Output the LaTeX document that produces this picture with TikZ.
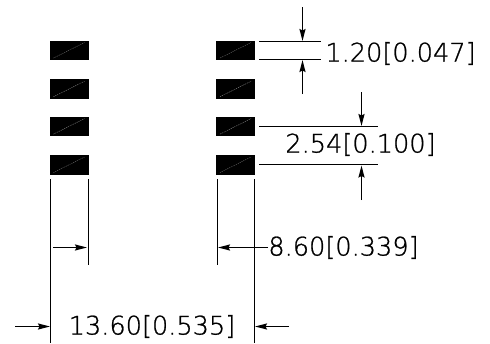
\documentclass[tikz,border=0pt]{standalone}
\usepackage{fontspec}
\newfontfamily\dimfont[FakeBold=0.9]{DejaVu Sans ExtraLight}
\usetikzlibrary{arrows.meta}
\tikzset{
  x=1pt,y=-1pt,
  padbox/.style={fill=black,draw=none,minimum width=39pt,minimum height=19.5pt,inner sep=0pt,outer sep=0pt},
  padline/.style={draw=white!60!black,line width=0.3pt,dash pattern=on 1.2pt off 0.8pt},
  dimline/.style={draw=black,line width=1.6pt},
  dimarrow/.style={draw=black,line width=1.6pt,-{Stealth[length=12pt,width=6pt,inset=1.5pt]}},
  dimtext/.style={font=\dimfont\fontsize{25.6}{25.6}\selectfont,inner sep=0pt,anchor=center,text=black}
}
\begin{document}
\begin{tikzpicture}
\useasboundingbox (0,0) rectangle (490,343);
\foreach \n/\y in {1/50.3,2/89,3/126.4,4/164.8}{
  \node[padbox] (L\n) at (69,\y) {};
  \node[padbox] (R\n) at (235.5,\y) {};
  \draw[padline] ([shift={(4,-2)}]L\n.south west) -- ([shift={(-4,2)}]L\n.north east);
  \draw[padline] ([shift={(4,-2)}]R\n.south west) -- ([shift={(-4,2)}]R\n.north east);
}
% text
\node[dimtext] (t1) at (400.5,53.5) {1.20[0.047]};
\node[dimtext] (t2) at (360.5,144.5) {2.54[0.100]};
\node[dimtext] (t3) at (343.5,247.5) {8.60[0.339]};
\node[dimtext] (t4) at (152,326.5) {13.60[0.535]};
% extension lines, top right
\coordinate (a1) at (259,41.5); \coordinate (a2) at (320.5,41.5);
\coordinate (b1) at (259,59.5); \coordinate (b2) at (320.5,59.5);
\coordinate (c1) at (259,126.5); \coordinate (c2) at (378,126.5);
\coordinate (d1) at (259,164.5); \coordinate (d2) at (378,164.5);
\draw[dimline] (a1) -- (a2);
\draw[dimline] (b1) -- (b2);
\draw[dimline] (c1) -- (c2);
\draw[dimline] (d1) -- (d2);
\coordinate (e1) at (302.5,7); \coordinate (e2) at (302.5,41);
\coordinate (f1) at (302.5,94); \coordinate (f2) at (302.5,60);
\coordinate (g1) at (361.5,92); \coordinate (g2) at (361.5,126);
\coordinate (h1) at (361.5,200); \coordinate (h2) at (361.5,165.5);
\draw[dimarrow] (e1) -- (e2);
\draw[dimarrow] (f1) -- (f2);
\draw[dimarrow] (g1) -- (g2);
\draw[dimarrow] (h1) -- (h2);
% extension lines, bottom
\coordinate (p1) at (50.5,179); \coordinate (p2) at (50.5,343);
\coordinate (q1) at (88.5,179); \coordinate (q2) at (88.5,265);
\coordinate (r1) at (217.5,179); \coordinate (r2) at (217.5,265);
\coordinate (s1) at (254.5,179); \coordinate (s2) at (254.5,343);
\draw[dimline] (p1) -- (p2);
\draw[dimline] (q1) -- (q2);
\draw[dimline] (r1) -- (r2);
\draw[dimline] (s1) -- (s2);
\coordinate (u1) at (53,247.5); \coordinate (u2) at (87,247.5);
\coordinate (v2) at (218,247.5);
\coordinate (w1) at (15,326.5); \coordinate (w2) at (50,326.5);
\coordinate (z1) at (289,326.5); \coordinate (z2) at (255,326.5);
\draw[dimarrow] (u1) -- (u2);
\draw[dimarrow] (t3.west) -- (v2);
\draw[dimarrow] (w1) -- (w2);
\draw[dimarrow] (z1) -- (z2);
\end{tikzpicture}
\end{document}
